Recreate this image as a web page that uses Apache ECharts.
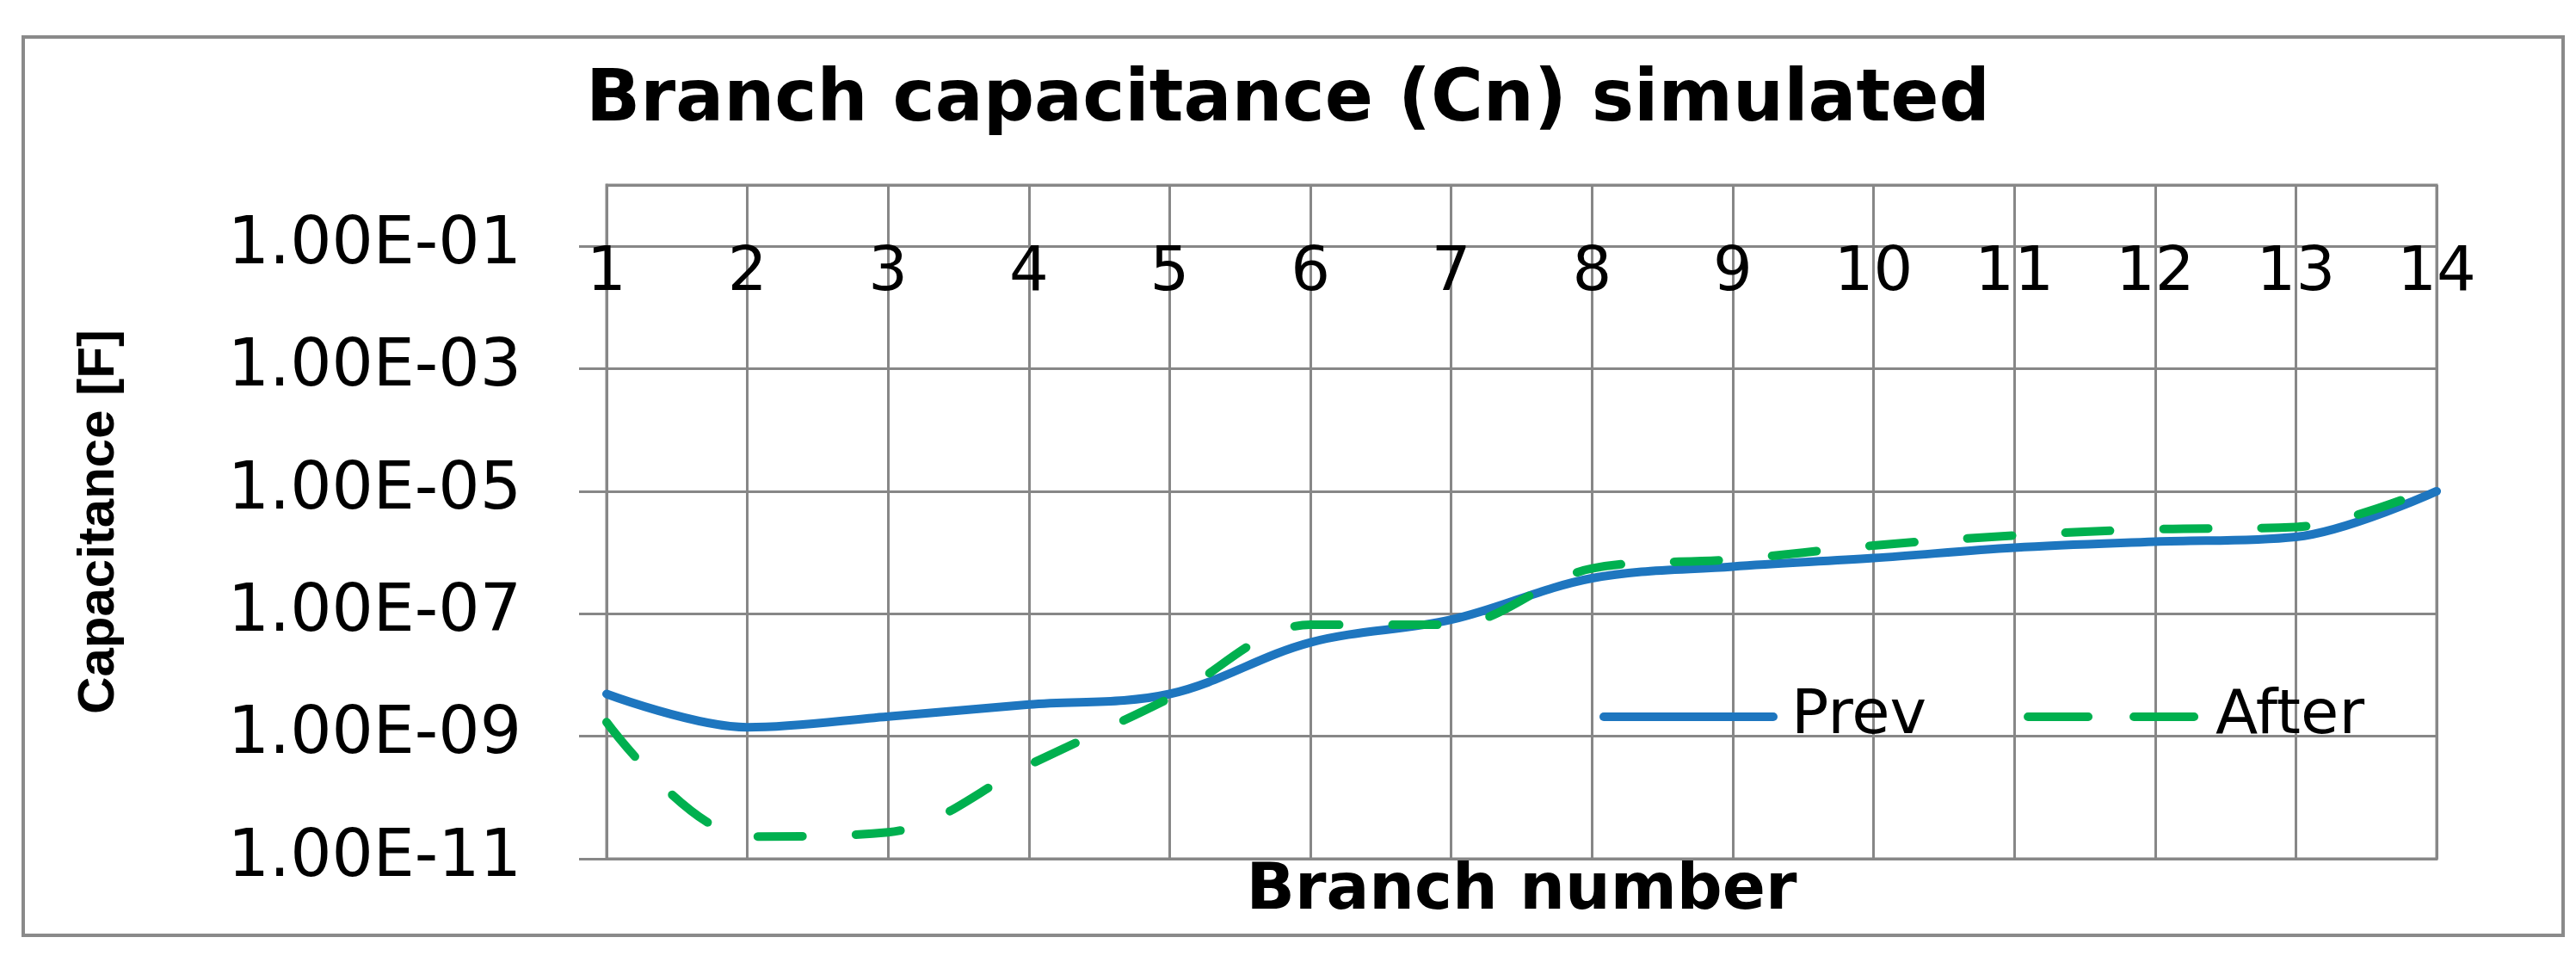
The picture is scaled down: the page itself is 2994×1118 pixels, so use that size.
<!DOCTYPE html>
<html>
<head>
<meta charset="utf-8">
<title>Branch capacitance (Cn) simulated</title>
<script src="https://cdn.jsdelivr.net/npm/echarts@6/dist/echarts.min.js"></script>
<style>
    html, body { margin: 0; padding: 0; background: #fff; }
    #chart { width: 2994px; height: 1118px; }
</style>
</head>
<body>
<div id="chart"></div>
<script>
// values
var branches = ['1', '2', '3', '4', '5', '6', '7', '8', '9', '10', '11', '12', '13', '14']
var prevValues = [4.9e-9, 1.4e-9, 2.1e-9, 3.3e-9, 4.9e-9, 3.4e-8, 8.0e-8, 3.8e-7, 5.9e-7, 8.1e-7, 1.2e-6, 1.5e-6, 1.8e-6, 1.0e-5]
var afterValues = [1.7e-9, 2.3e-11, 2.7e-11, 3.4e-10, 4.2e-9, 6.6e-8, 6.6e-8, 5.5e-7, 7.7e-7, 1.3e-6, 1.9e-6, 2.4e-6, 2.6e-6, 1.2e-5]

var gridColor = '#878787'
var afterDash = [52, 62]

// excel style: 1.00E-05
function sciLabel(v) {
    var e = Math.round(Math.log10(v))
    var m = v / Math.pow(10, e)
    var sign = e < 0 ? '-' : '+'
    return m.toFixed(2) + 'E' + sign + String(Math.abs(e)).padStart(2, '0')
}

function drawChart() {
    var dom = document.getElementById('chart')
    var chart = echarts.init(dom)
    let option = {
        backgroundColor: '#fff',
        animation: false,
        title: {
            text: 'Branch capacitance (Cn) simulated',
            left: 'center',
            top: 72,
            textStyle: {
                fontFamily: 'DejaVu Sans',
                fontWeight: 'bold',
                fontSize: 83,
                color: '#000'
            }
        },
        graphic: [
            {
                type: 'rect',
                shape: {x: 27, y: 43, width: 2952, height: 1044},
                style: {fill: 'none', stroke: '#8a8a8a', lineWidth: 4},
                silent: true
            }
        ],
        legend: {
            left: 1854,
            top: 792,
            itemWidth: 197,
            itemHeight: 10,
            itemGap: 113,
            data: [
                {name: 'Prev'},
                // two dashes in the key, like the original
                {name: 'After', lineStyle: {type: [70, 53]}}
            ],
            lineStyle: {width: 10},
            itemStyle: {opacity: 0},
            textStyle: {
                fontFamily: 'DejaVu Sans',
                fontSize: 72,
                color: '#000',
                padding: [0, 0, 0, 16]
            }
        },
        grid: {
            left: 705,
            right: 162,
            top: 215,
            bottom: 120,
            show: true,
            borderColor: gridColor,
            borderWidth: 3,
            containLabel: false
        },
        xAxis: [
            {
                type: 'category',
                data: branches,
                boundaryGap: false,
                position: 'bottom',
                axisLine: {show: true, lineStyle: {color: gridColor, width: 3}},
                axisTick: {show: false},
                axisLabel: {show: false},
                splitLine: {show: true, lineStyle: {color: gridColor, width: 3}},
                name: 'Branch number',
                nameLocation: 'middle',
                nameGap: 2,
                nameTextStyle: {
                    fontFamily: 'DejaVu Sans',
                    fontWeight: 'bold',
                    fontSize: 74,
                    color: '#000'
                }
            },
            {
                // labels sit under the 1.00E-01 line, like excel's crossing axis
                type: 'category',
                data: branches,
                boundaryGap: false,
                position: 'top',
                axisLine: {show: false},
                axisTick: {show: false},
                splitLine: {show: false},
                axisLabel: {
                    inside: true,
                    margin: 67,
                    fontFamily: 'DejaVu Sans',
                    fontSize: 72,
                    color: '#000'
                }
            }
        ],
        yAxis: {
            type: 'log',
            logBase: 10,
            min: 1e-11,
            max: 1,
            interval: 2,
            axisLine: {show: true, lineStyle: {color: gridColor, width: 3}},
            axisTick: {show: true, length: 32, lineStyle: {color: gridColor, width: 3}},
            splitLine: {show: true, lineStyle: {color: gridColor, width: 3}},
            axisLabel: {
                margin: 99,
                showMaxLabel: false,
                fontFamily: 'DejaVu Sans',
                fontSize: 76,
                color: '#000',
                formatter: sciLabel
            },
            name: 'Capacitance [F]',
            nameLocation: 'middle',
            nameRotate: 90,
            nameGap: 560,
            nameTextStyle: {
                fontFamily: 'Liberation Sans',
                fontWeight: 'bold',
                fontSize: 60,
                color: '#000'
            }
        },
        series: [
            {
                name: 'Prev',
                type: 'line',
                smooth: 0.35,
                symbol: 'none',
                color: '#1E76BF',
                lineStyle: {width: 10, color: '#1E76BF', cap: 'round'},
                data: prevValues
            },
            {
                name: 'After',
                type: 'line',
                smooth: 0.35,
                symbol: 'none',
                color: '#00B04F',
                lineStyle: {width: 10, color: '#00B04F', type: afterDash, cap: 'round'},
                data: afterValues
            }
        ]
    };
    chart.setOption(option)
}

drawChart()
</script>
</body>
</html>
